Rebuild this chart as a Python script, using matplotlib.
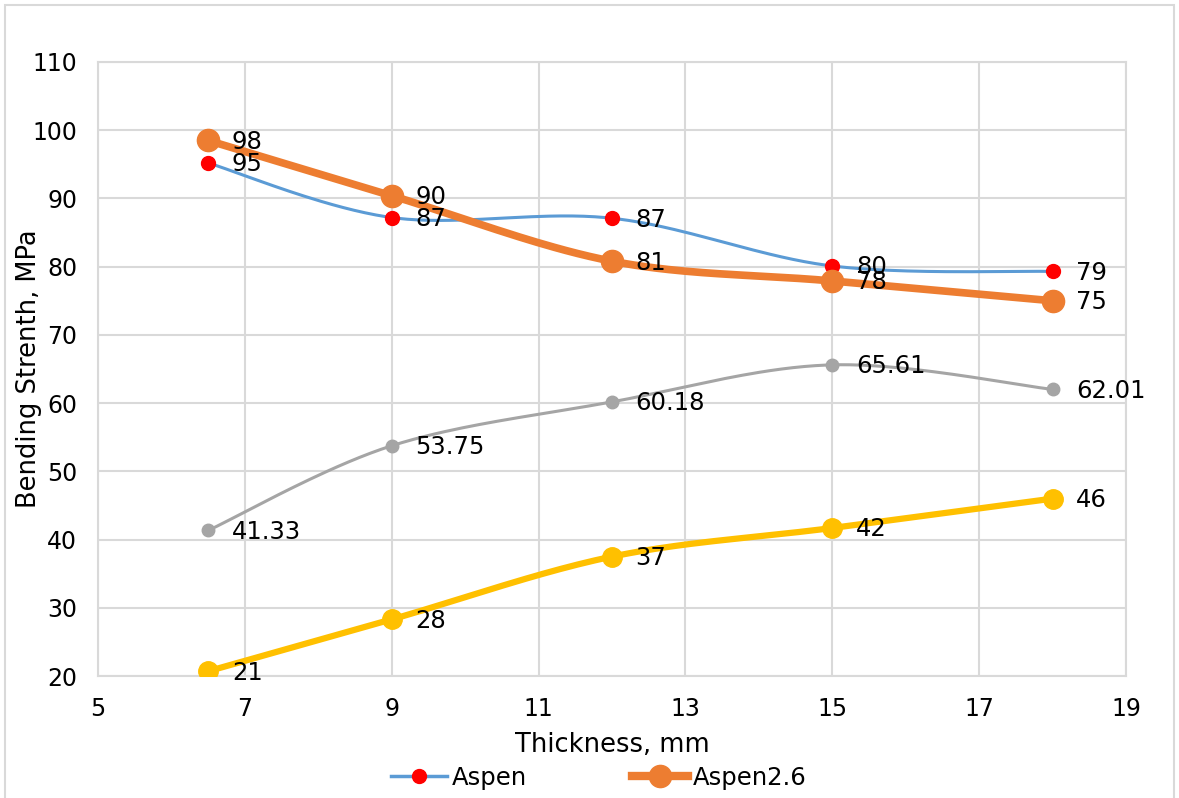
import numpy as np
import matplotlib.pyplot as plt
from matplotlib.patches import Rectangle

thickness = [6.5, 9, 12, 15, 18]
aspen = [95.2, 87.2, 87.1, 80.1, 79.3]
aspen26 = [98.5, 90.4, 80.8, 77.9, 75.0]
gray_series = [41.33, 53.75, 60.18, 65.61, 62.01]
yellow_series = [20.7, 28.3, 37.5, 41.7, 46.0]

aspen_lbl = ['95', '87', '87', '80', '79']
aspen26_lbl = ['98', '90', '81', '78', '75']
gray_lbl = ['41.33', '53.75', '60.18', '65.61', '62.01']
yellow_lbl = ['21', '28', '37', '42', '46']


def smooth(x, y, n=40):
    # bezier smoothing between points, like spreadsheet "smoothed line"
    x = np.asarray(x, float)
    y = np.asarray(y, float)
    px = np.concatenate([[x[0]], x, [x[-1]]])
    py = np.concatenate([[y[0]], y, [y[-1]]])
    xs, ys = [], []
    t = np.linspace(0, 1, n)
    for i in range(1, len(px) - 2):
        p0 = np.array([px[i], py[i]])
        p3 = np.array([px[i + 1], py[i + 1]])
        p1 = p0 + (np.array([px[i + 1], py[i + 1]]) - np.array([px[i - 1], py[i - 1]])) / 6
        p2 = p3 - (np.array([px[i + 2], py[i + 2]]) - np.array([px[i], py[i]])) / 6
        b = ((1 - t) ** 3)[:, None] * p0 + (3 * (1 - t) ** 2 * t)[:, None] * p1 \
            + (3 * (1 - t) * t ** 2)[:, None] * p2 + (t ** 3)[:, None] * p3
        xs.extend(b[:, 0])
        ys.extend(b[:, 1])
    return xs, ys


W, H = 1179, 798
fig = plt.figure(figsize=(W / 100, H / 100), dpi=100)
ax = fig.add_axes([98 / W, 1 - 676 / H, (1126 - 98) / W, (676 - 62) / H])

series = [
    (gray_series, gray_lbl, '#A5A5A5', 2.2, '#A5A5A5', 9),
    (yellow_series, yellow_lbl, '#FFC000', 4.5, '#FFC000', 14),
    (aspen, aspen_lbl, '#5B9BD5', 2.2, '#FF0000', 10),
    (aspen26, aspen26_lbl, '#ED7D31', 5.5, '#ED7D31', 16),
]
for vals, lbls, col, lw, mcol, ms in series:
    sx, sy = smooth(thickness, vals)
    ax.plot(sx, sy, color=col, lw=lw, solid_capstyle='round', zorder=3)
    ax.plot(thickness, vals, ls='none', marker='o', color=mcol, ms=ms, zorder=4)
    for xv, yv, t in zip(thickness, vals, lbls):
        ax.annotate(t, (xv, yv), xytext=(17, -1), textcoords='offset points',
                    va='center', ha='left', fontsize=17.5, zorder=5)

ax.set_xlim(5, 19)
ax.set_ylim(20, 110)
ax.set_xticks(range(5, 20, 2))
ax.set_yticks(range(20, 111, 10))
ax.grid(color='#D9D9D9', lw=1.5)
ax.set_axisbelow(True)
for s in ax.spines.values():
    s.set_color('#D9D9D9')
    s.set_linewidth(1.5)
ax.tick_params(length=0, labelsize=17)
ax.tick_params(axis='x', pad=15)
ax.tick_params(axis='y', pad=15)
fig.text(612 / W, 1 - 745 / H, 'Thickness, mm', fontsize=18.5, ha='center', va='center')
fig.text(29 / W, 1 - 369 / H, 'Bending Strenth, MPa', fontsize=18.5, ha='center', va='center',
         rotation=90)

h1, = ax.plot([], [], color='#5B9BD5', lw=2.5, marker='o', mfc='#FF0000', mec='#FF0000', ms=10)
h2, = ax.plot([], [], color='#ED7D31', lw=6, marker='o', mfc='#ED7D31', mec='#ED7D31', ms=16)
fig.legend([h1, h2], ['Aspen', 'Aspen2.6'], loc='center', bbox_to_anchor=(0.508, 1 - 778 / H),
           ncol=2, frameon=False, fontsize=17.5, handlelength=2.3, handletextpad=0.2,
           columnspacing=4.3)

fig.patches.append(Rectangle((5 / W, -0.05), 1169 / W, 1.05 - 5 / H,
                             transform=fig.transFigure, fill=False, ec='#D9D9D9', lw=1.5))
fig.savefig('out.png', dpi=100)
